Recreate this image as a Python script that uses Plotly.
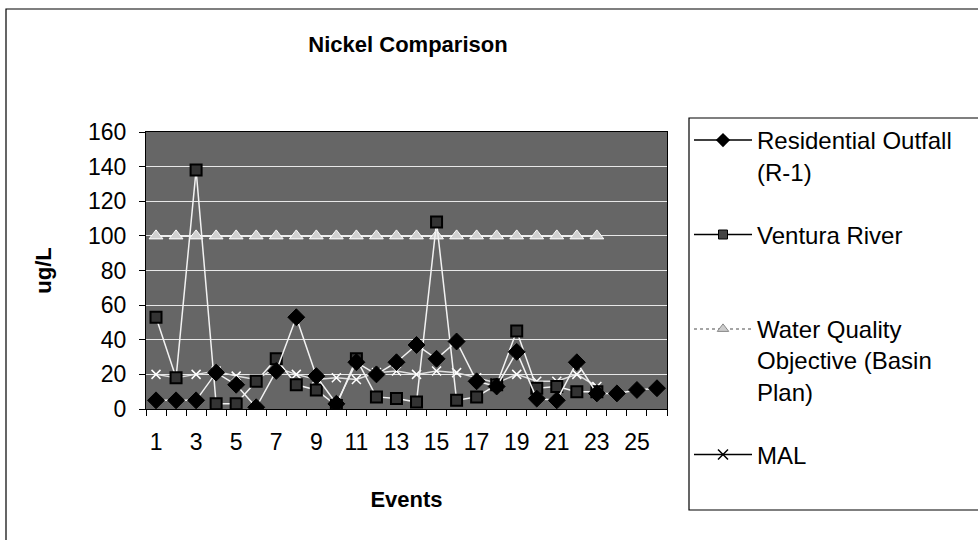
import plotly.graph_objects as go

events = list(range(1, 27))
residential = [5, 5, 5, 21, 14, 1, 22, 53, 19, 3, 27, 20, 27, 37, 29, 39, 16, 13, 33, 6, 5, 27, 9, 9, 11, 12]
ventura = [53, 18, 138, 3, 3, 16, 29, 14, 11, 2, 29, 7, 6, 4, 108, 5, 7, 14, 45, 12, 13, 10, 10]
wqo = [100] * 23
mal = [20, 18, 20, 22, 19, 17, 24, 20, 17, 18, 17, 21, 22, 20, 22, 21, 18, 15, 20, 16, 16, 20, 13]

names = ["Residential Outfall<br>(R-1)", "Ventura River<br> ",
         "Water Quality<br>Objective (Basin<br>Plan)", "MAL"]

FONT = "Liberation Sans, Arial, sans-serif"
fig = go.Figure()

# data traces (drawn as they appear on the dark dithered plot area)
fig.add_trace(go.Scatter(x=events[:len(wqo)], y=wqo, mode="lines+markers", showlegend=False,
                         line=dict(color="#eeeeee", width=2),
                         marker=dict(symbol="triangle-up", size=12, color="#d0d0d0",
                                     line=dict(color="white", width=1))))
fig.add_trace(go.Scatter(x=events[:len(mal)], y=mal, mode="lines+markers", showlegend=False,
                         line=dict(color="#e0e0e0", width=1.5),
                         marker=dict(symbol="x-thin-open", size=9, color="white",
                                     line=dict(color="white", width=1.5))))
fig.add_trace(go.Scatter(x=events[:len(ventura)], y=ventura, mode="lines+markers", showlegend=False,
                         line=dict(color="#f2f2f2", width=1.5),
                         marker=dict(symbol="square", size=11, color="#333333",
                                     line=dict(color="black", width=2))))
fig.add_trace(go.Scatter(x=events, y=residential, mode="lines+markers", showlegend=False,
                         line=dict(color="#f2f2f2", width=1.5),
                         marker=dict(symbol="diamond", size=13, color="black",
                                     line=dict(color="black", width=1))))

# legend proxies
styles = [
    dict(line=dict(color="black", width=1.5), marker=dict(symbol="diamond", size=11, color="black")),
    dict(line=dict(color="black", width=1.5), marker=dict(symbol="square", size=9, color="#444444",
                                                          line=dict(color="black", width=1))),
    dict(line=dict(color="#888888", width=1.5, dash="dot"), marker=dict(symbol="triangle-up", size=10, color="#cccccc",
                                                                        line=dict(color="#888888", width=1))),
    dict(line=dict(color="black", width=1.5), marker=dict(symbol="x-thin-open", size=10,
                                                          line=dict(color="black", width=1.5))),
]
for i, (nm, st) in enumerate(zip(names, styles)):
    fig.add_trace(go.Scatter(x=[None], y=[None], mode="lines+markers", name=nm,
                             legendgroup=str(i), **st))

fig.update_layout(
    width=978, height=540,
    margin=dict(l=146, r=311, t=132, b=131),
    paper_bgcolor="white", plot_bgcolor="#666666",
    font=dict(family=FONT, size=22, color="black"),
    title=dict(text="<b>Nickel Comparison</b>", x=(408 / 978), xanchor="center",
               y=1 - 44 / 540, yanchor="middle", font=dict(size=22)),
    showlegend=True,
    legend=dict(x=(689 - 146) / 521, y=(409 - 118) / 277, xanchor="left", yanchor="top",
                bgcolor="rgba(0,0,0,0)", borderwidth=0, font=dict(size=24),
                tracegroupgap=29, valign="top", itemwidth=58, maxheight=450),
    xaxis=dict(range=[0.5, 26.5], tickmode="array", tickvals=events[::2],
               ticktext=[str(e) for e in events[::2]], ticks="", showgrid=False,
               zeroline=False, showline=True, linecolor="black", linewidth=1, mirror=True,
               minor=dict(ticks="outside", tick0=0.5, dtick=1, ticklen=6, tickcolor="black", showgrid=False),
               tickfont=dict(size=23), ticklabelstandoff=12,
               title=dict(text="<b>Events</b>", font=dict(size=22), standoff=38)),
    yaxis=dict(range=[0, 160], dtick=20, ticks="outside", ticklen=6, tickcolor="black",
               showgrid=True, gridcolor="#e8e8e8", gridwidth=1, zeroline=False,
               showline=True, linecolor="black", linewidth=1, mirror=True,
               tickfont=dict(size=23), ticklabelstandoff=8,
               title=dict(text="<b>ug/L</b>", font=dict(size=22), standoff=30)),
    shapes=[
        dict(type="rect", xref="paper", yref="paper", x0=(689 - 146) / 521, x1=(985 - 146) / 521,
             y0=(409 - 510) / 277, y1=(409 - 118) / 277, line=dict(color="black", width=1.2)),
        dict(type="rect", xref="paper", yref="paper", x0=(6 - 146) / 521, x1=(990 - 146) / 521,
             y0=(409 - 545) / 277, y1=(409 - 9) / 277, line=dict(color="black", width=1.2)),
    ],
)

fig.write_html("out.html")
